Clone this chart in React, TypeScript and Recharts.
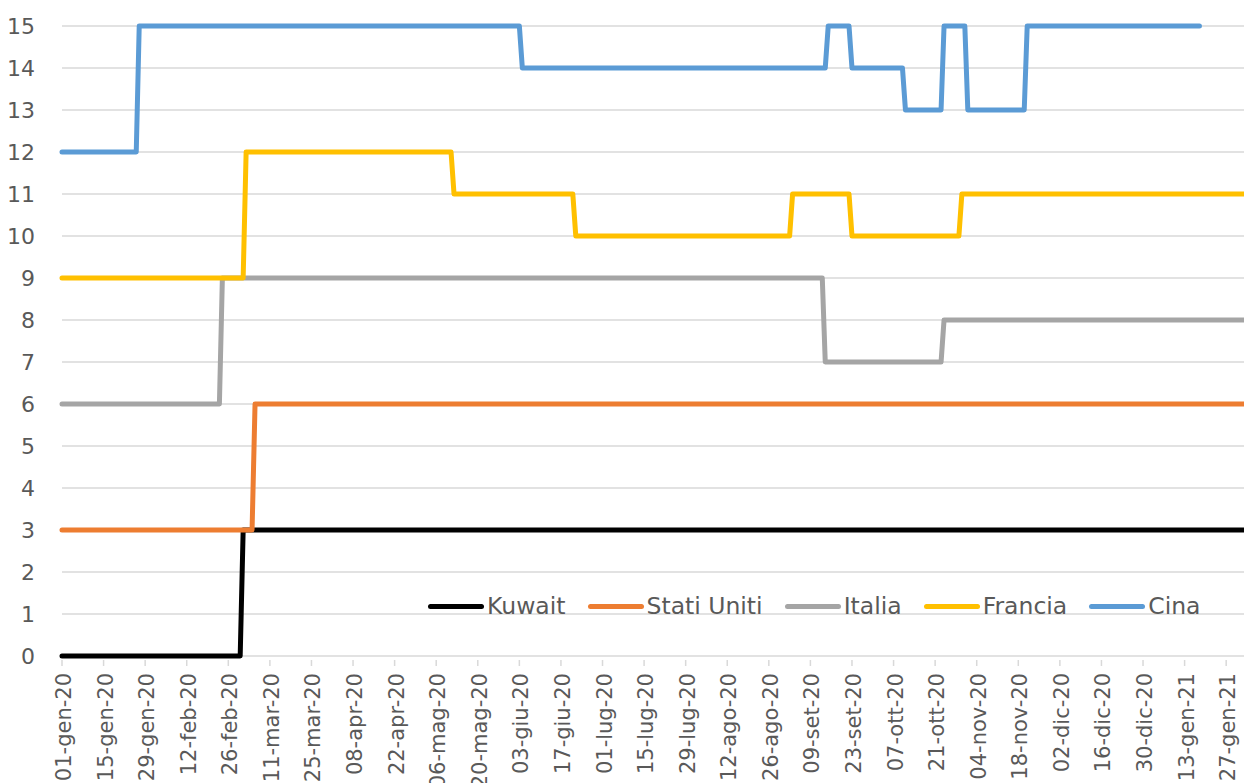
import { LineChart, Line, XAxis, YAxis, CartesianGrid, Legend } from "recharts";

// x labels, one every 14 days starting 01-gen-20
const tickLabels = [
  "01-gen-20", "15-gen-20", "29-gen-20", "12-feb-20", "26-feb-20", "11-mar-20",
  "25-mar-20", "08-apr-20", "22-apr-20", "06-mag-20", "20-mag-20", "03-giu-20",
  "17-giu-20", "01-lug-20", "15-lug-20", "29-lug-20", "12-ago-20", "26-ago-20",
  "09-set-20", "23-set-20", "07-ott-20", "21-ott-20", "04-nov-20", "18-nov-20",
  "02-dic-20", "16-dic-20", "30-dic-20", "13-gen-21", "27-gen-21",
];
const yTicks = [0, 1, 2, 3, 4, 5, 6, 7, 8, 9, 10, 11, 12, 13, 14, 15];

// [first day (0 = 01-gen-20), value] : value holds until the next entry
const kuwaitRuns = [[0, 0], [61, 3]];
const statiUnitiRuns = [[0, 3], [65, 6]];
const italiaRuns = [[0, 6], [54, 9], [257, 7], [297, 8]];
const franciaRuns = [[0, 9], [62, 12], [132, 11], [173, 10], [246, 11], [266, 10], [303, 11]];
const cinaRuns = [[0, 12], [26, 15], [155, 14], [258, 15], [266, 14], [284, 13], [297, 15], [305, 13], [325, 15]];

const lastDay = 398;
const cinaLastDay = 383;

const seriesNames = ["Kuwait", "Stati Uniti", "Italia", "Francia", "Cina"];
const seriesKeys = ["kuwait", "statiUniti", "italia", "francia", "cina"];
const seriesColors = ["#000000", "#ED7D31", "#A5A5A5", "#FFC000", "#5B9BD5"];

const valueAt = (runs: number[][], day: number) => {
  let v = runs[0][1];
  for (const [start, val] of runs) if (day >= start) v = val;
  return v;
};

const data = Array.from({ length: lastDay + 1 }, (_, day) => ({
  day,
  kuwait: valueAt(kuwaitRuns, day),
  statiUniti: valueAt(statiUnitiRuns, day),
  italia: valueAt(italiaRuns, day),
  francia: valueAt(franciaRuns, day),
  cina: day <= cinaLastDay ? valueAt(cinaRuns, day) : null,
}));

const xTicks = tickLabels.map((_, i) => i * 14);

const FONT = "'DejaVu Sans', sans-serif";
const TEXT = "#595959";

const DateTick = (props: any) => {
  const { x, y, payload } = props;
  const label = tickLabels[Math.round(payload.value / 14)];
  return (
    <g>
      <line x1={x} x2={x} y1={y - 13} y2={y - 7} stroke="#d9d9d9" strokeWidth={1.5} />
      <text
        x={x}
        y={y}
        dy={9}
        transform={`rotate(-90, ${x}, ${y})`}
        textAnchor="end"
        fill={TEXT}
        fontSize={21}
        fontFamily={FONT}
      >
        {label}
      </text>
    </g>
  );
};

const LegendContent = () => (
  <div style={{ display: "flex", alignItems: "center", fontFamily: FONT, fontSize: 23.5, lineHeight: "26px", color: TEXT }}>
    {seriesNames.map((name, i) => (
      <div key={name} style={{ display: "flex", alignItems: "center", marginRight: 22 }}>
        <div style={{ width: 56, height: 5, borderRadius: 3, background: seriesColors[i], marginRight: 3 }} />
        <span style={{ whiteSpace: "nowrap" }}>{name}</span>
      </div>
    ))}
  </div>
);

const App = () => {
  return (
    <div style={{ position: "absolute", left: 0, top: 0, width: 1244, height: 783, background: "#fff" }}>
      <LineChart width={1244} height={783} data={data} margin={{ top: 26, right: 0, left: 0, bottom: 0 }}>
        <CartesianGrid vertical={false} stroke="#d9d9d9" strokeWidth={1.4} />
        <XAxis
          dataKey="day"
          type="number"
          domain={[0, lastDay]}
          ticks={xTicks}
          interval={0}
          height={127}
          axisLine={false}
          tickLine={false}
          tickSize={6}
          tickMargin={11}
          tick={<DateTick />}
        />
        <YAxis
          type="number"
          domain={[0, 15]}
          ticks={yTicks}
          interval={0}
          width={62}
          axisLine={false}
          tickLine={false}
          tickSize={0}
          tickMargin={27}
          tick={{ fill: TEXT, fontSize: 22, fontFamily: FONT }}
        />
        <Legend
          layout="horizontal"
          verticalAlign="middle"
          align="center"
          content={<LegendContent />}
          wrapperStyle={{ left: 428, top: 593, width: "auto" }}
        />
        {seriesKeys.map((key, i) => (
          <Line
            key={key}
            type="linear"
            dataKey={key}
            name={seriesNames[i]}
            stroke={seriesColors[i]}
            strokeWidth={5}
            strokeLinejoin="round"
            strokeLinecap="round"
            dot={false}
            activeDot={false}
            isAnimationActive={false}
          />
        ))}
      </LineChart>
    </div>
  );
};

export default App;
